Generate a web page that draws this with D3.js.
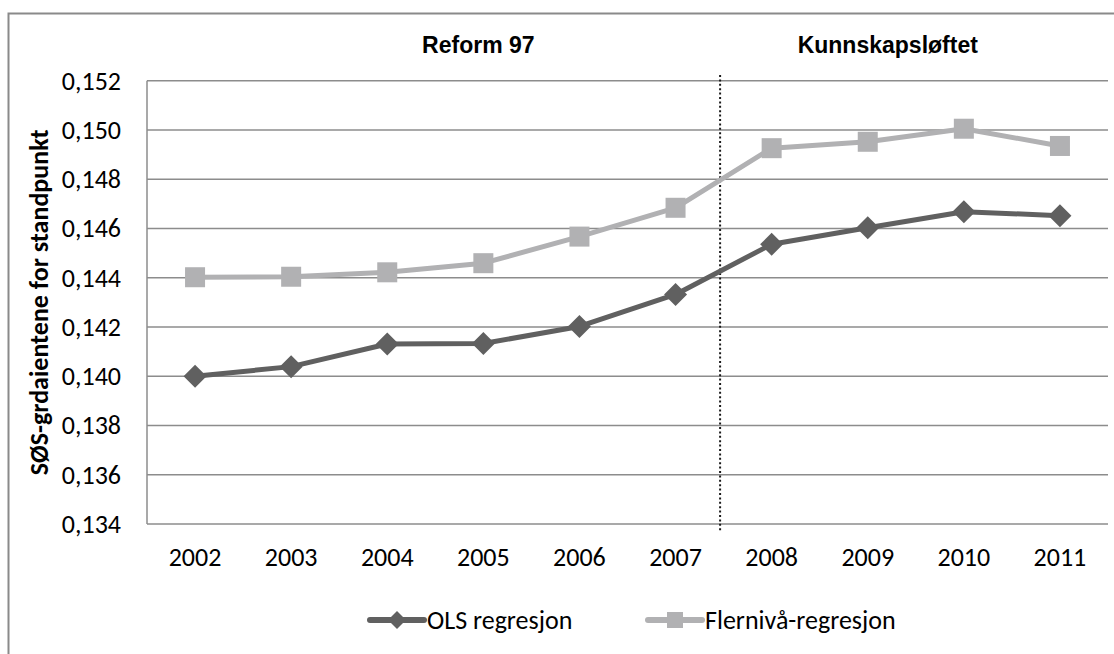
<!DOCTYPE html>
<html>
<head>
<meta charset="utf-8">
<script src="https://cdn.jsdelivr.net/npm/d3@7"></script>
<style>
  html, body { margin: 0; padding: 0; background: #fff; }
  svg { display: block; }
</style>
</head>
<body>
<svg id="chart" width="1114" height="654"></svg>
<script>
// Years on the x axis
const years = ["2002", "2003", "2004", "2005", "2006", "2007", "2008", "2009", "2010", "2011"];
// SES gradient estimates per year
const olsValues = [0.1400, 0.14039, 0.14131, 0.14133, 0.14202, 0.14332, 0.14536, 0.14603, 0.14668, 0.14652];
const multilevelValues = [0.14402, 0.14404, 0.14422, 0.14459, 0.14567, 0.14684, 0.14926, 0.14952, 0.15005, 0.14935];
// Y axis ticks
const yTicks = [0.134, 0.136, 0.138, 0.140, 0.142, 0.144, 0.146, 0.148, 0.150, 0.152];
// Series names and period labels
const seriesNames = ["OLS regresjon", "Flernivå-regresjon"];
const periodLabels = ["Reform 97", "Kunnskapsløftet"];
const yTitle = "SØS-grdaientene for standpunkt";

const svg = d3.select("#chart");
const W = 1114, H = 654;
const plot = { left: 147, right: 1108, top: 80.7, bottom: 524 };
const bodyFont = "Carlito, Lato, 'Open Sans', sans-serif";
const bodySize = 26;

const x = d3.scaleBand().domain(years).range([plot.left, plot.right]).padding(0);
const xc = d => x(d) + x.bandwidth() / 2;
const y = d3.scaleLinear().domain([0.134, 0.152]).range([plot.bottom, plot.top]);
const fmt = v => d3.format(".3f")(v).replace(".", ",");

// Outer chart frame (left and top edges visible)
svg.append("path")
  .attr("d", `M8.5,${H} L8.5,13.5 L${W},13.5`)
  .attr("fill", "none").attr("stroke", "#8a8a8a").attr("stroke-width", 2);

// Horizontal gridlines
svg.append("g").selectAll("line").data(yTicks).join("line")
  .attr("x1", plot.left).attr("x2", plot.right)
  .attr("y1", d => y(d)).attr("y2", d => y(d))
  .attr("stroke", "#8c8c8c").attr("stroke-width", 1.5);

// Left axis line
svg.append("line")
  .attr("x1", plot.left).attr("x2", plot.left)
  .attr("y1", y(0.152)).attr("y2", y(0.134))
  .attr("stroke", "#8c8c8c").attr("stroke-width", 1.5);

// Y axis tick labels
const yAxis = d3.axisLeft(y).tickValues(yTicks).tickFormat(fmt).tickSize(0).tickPadding(26);
const gy = svg.append("g").attr("transform", `translate(${plot.left},0)`).call(yAxis);
gy.select(".domain").remove();
gy.selectAll("text").attr("font-family", bodyFont).attr("font-size", bodySize).attr("fill", "#000");

// X axis tick labels
const xAxis = d3.axisBottom(x).tickSize(0).tickPadding(24);
const gx = svg.append("g").attr("transform", `translate(0,${plot.bottom})`).call(xAxis);
gx.select(".domain").remove();
gx.selectAll("text").attr("font-family", bodyFont).attr("font-size", bodySize).attr("fill", "#000");

// Y axis title
svg.append("text")
  .attr("transform", `translate(48,${(plot.top + plot.bottom) / 2}) rotate(-90)`)
  .attr("text-anchor", "middle")
  .attr("font-family", bodyFont).attr("font-weight", "bold").attr("font-size", 26)
  .attr("fill", "#000")
  .text(yTitle);

// Period divider between 2007 and 2008
const divX = x("2008") - 3.5;
svg.append("line")
  .attr("x1", divX).attr("x2", divX)
  .attr("y1", 75).attr("y2", 531)
  .attr("stroke", "#1a1a1a").attr("stroke-width", 2).attr("stroke-dasharray", "2,2.4");

// Period labels
const periodX = [xc("2005") - 5, xc("2009") + 20];
svg.append("g").selectAll("text").data(periodLabels).join("text")
  .attr("x", (d, i) => periodX[i]).attr("y", 52.5)
  .attr("text-anchor", "middle")
  .attr("font-family", "'Liberation Sans', Arial, sans-serif")
  .attr("font-weight", "bold").attr("font-size", 23).attr("fill", "#000")
  .text(d => d);

// Series lines and markers
const line = d3.line().x((d, i) => xc(years[i])).y(d => y(d));
const diamond = (cx, cy, r) => `M${cx},${cy - r}L${cx + r},${cy}L${cx},${cy + r}L${cx - r},${cy}Z`;

const olsColor = "#606060", mlColor = "#b1b1b3";

svg.append("path").datum(multilevelValues)
  .attr("d", line).attr("fill", "none")
  .attr("stroke", mlColor).attr("stroke-width", 5).attr("stroke-linejoin", "round");
svg.append("g").selectAll("rect").data(multilevelValues).join("rect")
  .attr("x", (d, i) => xc(years[i]) - 10).attr("y", d => y(d) - 10)
  .attr("width", 20).attr("height", 20).attr("fill", mlColor);

svg.append("path").datum(olsValues)
  .attr("d", line).attr("fill", "none")
  .attr("stroke", olsColor).attr("stroke-width", 5).attr("stroke-linejoin", "round");
svg.append("g").selectAll("path").data(olsValues).join("path")
  .attr("d", (d, i) => diamond(xc(years[i]), y(d), 11.5))
  .attr("fill", olsColor);

// Legend
const legendY = 620;
const legend = [
  { name: seriesNames[0], color: olsColor, x0: 370, shape: "diamond" },
  { name: seriesNames[1], color: mlColor, x0: 648, shape: "square" }
];
legend.forEach(l => {
  const g = svg.append("g");
  g.append("line")
    .attr("x1", l.x0).attr("x2", l.x0 + 54)
    .attr("y1", legendY).attr("y2", legendY)
    .attr("stroke", l.color).attr("stroke-width", 6).attr("stroke-linecap", "round");
  const cx = l.x0 + 27;
  if (l.shape === "diamond") {
    g.append("path").attr("d", diamond(cx, legendY, 9)).attr("fill", l.color);
  } else {
    g.append("rect").attr("x", cx - 8).attr("y", legendY - 8)
      .attr("width", 16).attr("height", 16).attr("fill", l.color);
  }
  g.append("text")
    .attr("x", l.x0 + 57).attr("y", legendY).attr("dy", "0.35em")
    .attr("font-family", bodyFont).attr("font-size", bodySize).attr("fill", "#000")
    .text(l.name);
});
</script>
</body>
</html>
